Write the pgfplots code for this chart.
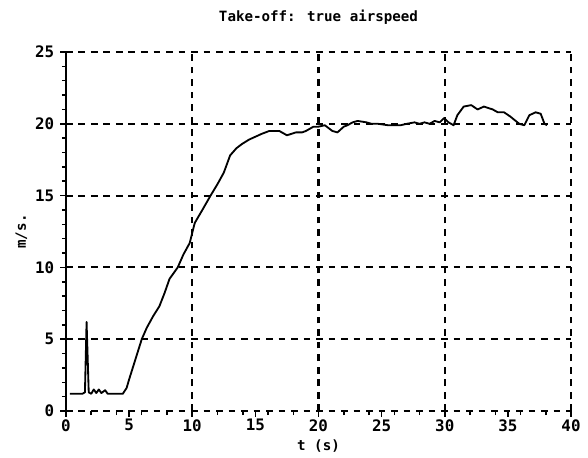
\documentclass[border=0pt]{standalone}
\usepackage{pgfplots}
\pgfplotsset{compat=1.18}
\usepackage{fontspec}
\setmainfont{DejaVu Sans Mono}

\begin{document}
\begin{tikzpicture}
\begin{axis}[
    scale only axis,
    width=303pt,
    height=215.4pt,
    xmin=0, xmax=40,
    ymin=0, ymax=25,
    axis line style={draw=none},
    xtick={0,10,20,30,40},
    extra x ticks={5,15,25,35},
    extra x tick style={grid=none},
    ytick={0,5,10,15,20,25},
    xtick pos=lower,
    ytick pos=left,
    minor x tick num=4,
    minor y tick num=4,
    tick align=outside,
    major tick length=3.5pt,
    minor tick length=2.5pt,
    tick style={black, line width=0.9pt},
    grid=major,
    major grid style={black, line width=1.25pt, dash pattern=on 4pt off 3.5pt},
    tick label style={font=\bfseries\fontsize{9.5}{10}\selectfont},
    xticklabel style={yshift=2pt},
    /pgf/number format/assume math mode=true,
    title={\bfseries Take-off: true airspeed},
    title style={font=\fontsize{8.5}{10}\selectfont, at={(0.5,1)}, anchor=south, yshift=7pt},
    xlabel={\bfseries t (s)},
    ylabel={\bfseries m/s.},
    label style={font=\fontsize{8.5}{10}\selectfont},
    xlabel style={yshift=9pt},
    ylabel style={yshift=-2pt},
    clip=false,
]
\draw[black, line width=1.2pt] (rel axis cs:0,0) -- (rel axis cs:0,1);
\addplot[black, line width=1.1pt, line join=round] coordinates {
(0.3,1.2) (1.3,1.2) (1.5,1.3) (1.63,6.2) (1.8,1.3) (2.0,1.2) (2.2,1.5) (2.4,1.25)
(2.6,1.5) (2.8,1.25) (3.1,1.45) (3.3,1.2) (3.6,1.2) (4.5,1.2) (4.8,1.6) (5.0,2.2)
(5.5,3.6) (6.0,5.0) (6.4,5.8) (6.9,6.6) (7.4,7.3) (7.8,8.2) (8.2,9.2) (8.85,10.0)
(9.3,10.9) (9.8,11.7) (10.2,13.1) (10.8,14.0) (11.45,15.0) (12.0,15.8) (12.5,16.6)
(13.0,17.8) (13.5,18.3) (13.95,18.6) (14.5,18.9) (15.0,19.1) (15.5,19.3) (16.1,19.5)
(16.9,19.5) (17.5,19.2) (18.2,19.4) (18.7,19.4) (19.0,19.5) (19.6,19.8) (20.0,19.8)
(20.5,19.9) (21.1,19.5) (21.5,19.4) (22.0,19.8) (22.3,19.9) (22.7,20.1) (23.1,20.2)
(23.8,20.1) (24.2,20.0) (24.7,20.0) (25.5,19.9) (26.5,19.9) (27.0,20.0) (27.6,20.1)
(28.0,20.0) (28.4,20.1) (28.8,20.0) (29.2,20.2) (29.6,20.1) (29.95,20.4) (30.3,20.1)
(30.7,19.9) (31.0,20.6) (31.5,21.2) (32.1,21.3) (32.6,21.0) (33.1,21.2) (33.8,21.0)
(34.2,20.8) (34.7,20.8) (35.2,20.5) (35.9,20.0) (36.3,19.9) (36.7,20.6) (37.2,20.8)
(37.6,20.7) (37.9,20.0) (38.1,19.9)
};
\end{axis}
\path ([shift={(-39.6pt,-27.6pt)}]current axis.south west)
  rectangle ([shift={(10.2pt,31.2pt)}]current axis.north east);
\end{tikzpicture}
\end{document}
